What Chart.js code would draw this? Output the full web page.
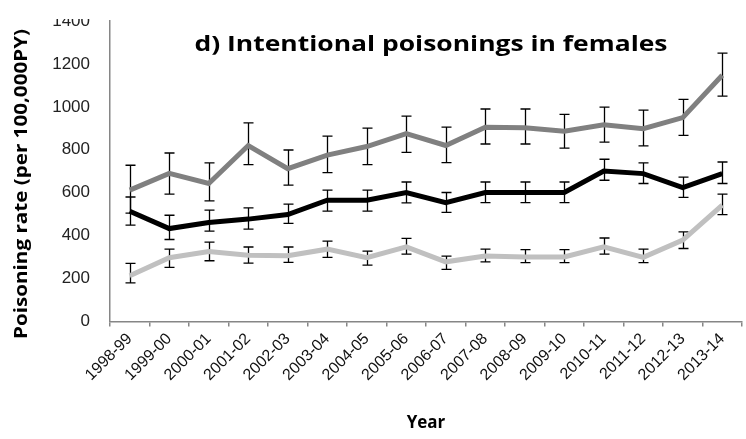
<!DOCTYPE html>
<html>
<head>
<meta charset="utf-8">
<script src="https://cdn.jsdelivr.net/npm/chart.js@4.4.0/dist/chart.umd.min.js"></script>
<style>
  html, body { margin: 0; padding: 0; background: #fff; }
  #wrap { width: 746px; height: 439px; }
</style>
</head>
<body>
<div id="wrap"><canvas id="poisonChart" width="746" height="439"></canvas></div>
<script>
// DATA
const years = ['1998-99', '1999-00', '2000-01', '2001-02', '2002-03', '2003-04', '2004-05', '2005-06',
  '2006-07', '2007-08', '2008-09', '2009-10', '2010-11', '2011-12', '2012-13', '2013-14'];
const yTicks = [0, 200, 400, 600, 800, 1000, 1200, 1400];

// dark grey series
const greyRate = [612, 690, 643, 820, 712, 775, 815, 875, 820, 905, 903, 886, 917, 898, 950, 1147];
const greyLow = [505, 593, 562, 731, 635, 694, 731, 788, 740, 827, 827, 808, 836, 818, 867, 1050];
const greyHigh = [728, 785, 739, 925, 799, 864, 901, 957, 906, 990, 990, 965, 999, 985, 1035, 1250];
// black series
const blackRate = [514, 433, 461, 477, 498, 565, 565, 601, 554, 601, 601, 601, 701, 689, 624, 689];
const blackLow = [449, 382, 421, 430, 457, 514, 514, 553, 508, 554, 554, 554, 658, 643, 578, 643];
const blackHigh = [580, 495, 519, 529, 547, 612, 612, 650, 601, 650, 650, 650, 756, 739, 673, 743];
// light grey series
const lightRate = [213, 297, 326, 309, 306, 337, 297, 348, 278, 305, 301, 301, 348, 299, 379, 542];
const lightLow = [180, 252, 283, 272, 275, 299, 263, 314, 243, 278, 274, 274, 314, 274, 340, 498];
const lightHigh = [271, 337, 370, 347, 347, 374, 328, 387, 305, 337, 335, 335, 389, 337, 418, 593];

const errSets = [
  { low: greyLow, high: greyHigh },
  { low: blackLow, high: blackHigh },
  { low: lightLow, high: lightHigh }
];

// error bars drawn under the lines
const errorBars = {
  id: 'errorBars',
  beforeDatasetsDraw(chart) {
    const ctx = chart.ctx;
    const xs = chart.scales.x, ys = chart.scales.y;
    ctx.save();
    ctx.strokeStyle = '#000';
    ctx.lineWidth = 1.3;
    errSets.forEach(s => {
      for (let i = 0; i < s.low.length; i++) {
        const px = Math.round(xs.getPixelForValue(i)) + 0.5;
        const top = ys.getPixelForValue(s.high[i]);
        const bot = ys.getPixelForValue(s.low[i]);
        ctx.beginPath();
        ctx.moveTo(px, top); ctx.lineTo(px, bot);
        ctx.moveTo(px - 5, top); ctx.lineTo(px + 5, top);
        ctx.moveTo(px - 5, bot); ctx.lineTo(px + 5, bot);
        ctx.stroke();
      }
    });
    ctx.restore();
  }
};

// text stretched to a given length (the original picture is a bit wide)
function stretchText(ctx, text, len) {
  const w = ctx.measureText(text).width;
  ctx.scale(len / w, 1);
  ctx.fillText(text, 0, 0);
}

// title inside the plot + y axis title, and the cut top of the picture
const extraText = {
  id: 'extraText',
  afterDraw(chart) {
    const ctx = chart.ctx;
    ctx.save();
    ctx.fillStyle = '#fff';
    ctx.fillRect(30, 0, 78, 19);
    ctx.fillStyle = '#000';
    ctx.textAlign = 'center';
    ctx.textBaseline = 'middle';
    ctx.save();
    ctx.font = 'bold 22px "Open Sans"';
    ctx.translate(431, 45);
    stretchText(ctx, 'd) Intentional poisonings in females', 473);
    ctx.restore();
    ctx.translate(22, 184);
    ctx.rotate(-Math.PI / 2);
    ctx.font = 'bold 18px "Open Sans"';
    stretchText(ctx, 'Poisoning rate (per 100,000PY)', 310);
    ctx.restore();
  }
};

const axisGrey = '#868686';

new Chart(document.getElementById('poisonChart'), {
  type: 'line',
  data: {
    labels: years,
    datasets: [
      { data: greyRate, borderColor: '#808080', borderWidth: 5, pointRadius: 0, tension: 0, fill: false },
      { data: blackRate, borderColor: '#000000', borderWidth: 5, pointRadius: 0, tension: 0, fill: false },
      { data: lightRate, borderColor: '#c0c0c0', borderWidth: 5, pointRadius: 0, tension: 0, fill: false }
    ]
  },
  options: {
    responsive: false,
    animation: false,
    devicePixelRatio: 1,
    layout: { padding: { top: 21, right: 4, left: 0, bottom: 0 } },
    plugins: { legend: { display: false }, tooltip: { enabled: false }, title: { display: false } },
    scales: {
      x: {
        offset: true,
        grid: { display: true, drawOnChartArea: false, offset: true, tickLength: 5, color: axisGrey, lineWidth: 1.5 },
        border: { color: axisGrey, width: 1.5 },
        ticks: { minRotation: 45, maxRotation: 45, autoSkip: false, padding: 3, color: '#111',
          font: { family: '"Liberation Sans"', size: 16 } },
        title: { display: true, text: 'Year', color: '#000', font: { family: '"Open Sans"', size: 17, weight: 'bold' },
          padding: { top: 0, bottom: 6 } },
        afterFit(scale) { scale.height = 117.5; }
      },
      y: {
        min: 0,
        max: 1400,
        afterBuildTicks(scale) { scale.ticks = yTicks.map(v => ({ value: v })); },
        grid: { display: false, drawTicks: false },
        border: { color: axisGrey, width: 1.5 },
        ticks: { padding: 20, color: '#222', font: { family: '"Liberation Sans"', size: 17 },
          callback: v => String(v) },
        afterFit(scale) { scale.width = 110; scale.paddingTop = 0; scale.paddingBottom = 0; }
      }
    }
  },
  plugins: [errorBars, extraText]
});
</script>
</body>
</html>
